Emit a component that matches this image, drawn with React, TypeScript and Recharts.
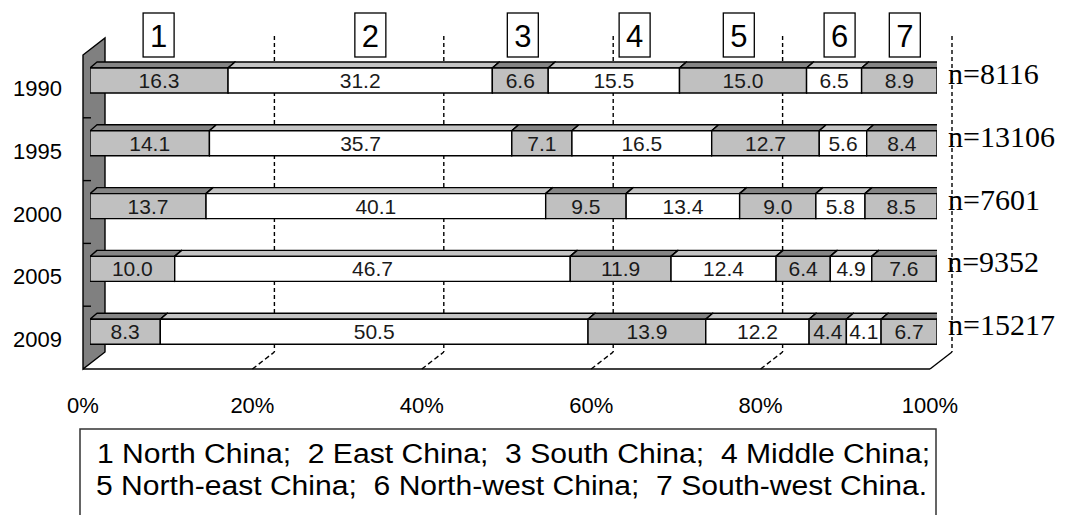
import { BarChart, Bar, XAxis, YAxis, LabelList, ReferenceArea, ReferenceLine } from 'recharts';

// Regional share of the sample (%) by survey year
const years = ['1990', '1995', '2000', '2005', '2009'];
const northChina = [16.3, 14.1, 13.7, 10.0, 8.3];
const eastChina = [31.2, 35.7, 40.1, 46.7, 50.5];
const southChina = [6.6, 7.1, 9.5, 11.9, 13.9];
const middleChina = [15.5, 16.5, 13.4, 12.4, 12.2];
const northEastChina = [15.0, 12.7, 9.0, 6.4, 4.4];
const northWestChina = [6.5, 5.6, 5.8, 4.9, 4.1];
const southWestChina = [8.9, 8.4, 8.5, 7.6, 6.7];
const sampleSizes = [8116, 13106, 7601, 9352, 15217];

const xTicks = [0, 20, 40, 60, 80, 100];
// where the region number boxes sit along the top, in %
const regionMarkers = [8.1, 33.1, 51.1, 64.3, 76.6, 88.5, 96.2];
const legendLines = [
  '1 North China;  2 East China;  3 South China;  4 Middle China;',
  '5 North-east China;  6 North-west China;  7 South-west China.',
];

const SERIES = [
  { key: 's1', values: northChina, shaded: true },
  { key: 's2', values: eastChina, shaded: false },
  { key: 's3', values: southChina, shaded: true },
  { key: 's4', values: middleChina, shaded: false },
  { key: 's5', values: northEastChina, shaded: true },
  { key: 's6', values: northWestChina, shaded: false },
  { key: 's7', values: southWestChina, shaded: true },
];

const data = years.map((year, i) => {
  const row: Record<string, string | number> = { year, n: sampleSizes[i] };
  SERIES.forEach((s) => { row[s.key] = s.values[i]; });
  return row;
});

const SANS = '"Liberation Sans", Arial, sans-serif';
const SERIF = '"Liberation Serif", "Times New Roman", serif';

// bar box depth, and the front / back planes of the 3D frame
const DX = 7;
const DY = 6;
const FRONT = { dx: -7, dy: 6 };
const BACK = { dx: 15, dy: -11 };

function Box3D(props: any) {
  const { x, y, width, height, shaded } = props;
  if (width == null || width <= 0) return null;
  const face = shaded ? '#c0c0c0' : '#ffffff';
  const top = shaded ? '#858585' : '#c4c4c4';
  const side = shaded ? '#808080' : '#c0c0c0';
  const r = x + width;
  return (
    <g stroke="#000" strokeWidth={1.4} strokeLinejoin="round">
      <polygon points={`${x},${y} ${x + DX},${y - DY} ${r + DX},${y - DY} ${r},${y}`} fill={top} />
      <polygon points={`${r},${y} ${r + DX},${y - DY} ${r + DX},${y + height - DY} ${r},${y + height}`} fill={side} />
      <rect x={x} y={y} width={width} height={height} fill={face} />
    </g>
  );
}

function ValueLabel(props: any) {
  const { x, y, width, height, value } = props;
  return (
    <text x={x + width / 2} y={y + height / 2 + 7.5} textAnchor="middle" fontSize={21} fontFamily={SANS} fill="#1a1a1a">
      {Number(value).toFixed(1)}
    </text>
  );
}

function SampleLabel(props: any) {
  const { x, y, width, height, value } = props;
  return (
    <text x={x + width + 11} y={y + height / 2 + 3.5} fontSize={30} fontFamily={SERIF} fill="#000">
      n={value}
    </text>
  );
}

function Frame(props: any) {
  const { x, y, width, height } = props;
  const L = x;
  const T = y;
  const B = y + height;
  const band = height / years.length;
  const px = (t: number) => L + (width * t) / 100;
  return (
    <g>
      {/* back wall gridlines and floor depth lines */}
      {xTicks.filter((t) => t > 0).map((t) => (
        <g key={t} stroke="#000" strokeWidth={1.4} fill="none">
          <line x1={px(t) + BACK.dx} y1={T + BACK.dy - 2} x2={px(t) + BACK.dx} y2={B + BACK.dy} strokeDasharray="4 3" />
          <line
            x1={px(t) + FRONT.dx} y1={B + FRONT.dy} x2={px(t) + BACK.dx} y2={B + BACK.dy}
            strokeDasharray={t === 100 ? undefined : '5 3'}
          />
        </g>
      ))}
      {/* side wall */}
      <polygon
        points={`${L + FRONT.dx},${T + FRONT.dy} ${L + BACK.dx},${T + BACK.dy} ${L + BACK.dx},${B + BACK.dy} ${L + FRONT.dx},${B + FRONT.dy}`}
        fill="#808080" stroke="#000" strokeWidth={1.4}
      />
      {years.slice(1).map((_, i) => (
        <line key={i} x1={L + FRONT.dx} x2={L + FRONT.dx + 8} y1={T + FRONT.dy + band * (i + 1)} y2={T + FRONT.dy + band * (i + 1)} stroke="#000" strokeWidth={1.4} />
      ))}
      {/* floor front edge */}
      <line x1={L + FRONT.dx} y1={B + FRONT.dy} x2={px(100) + FRONT.dx} y2={B + FRONT.dy} stroke="#000" strokeWidth={1.6} />
      {/* key box */}
      <rect x={L - 10} y={B + 66} width={856} height={120} fill="#fff" stroke="#333" strokeWidth={1.5} />
      {legendLines.map((line, i) => (
        <text
          key={i} x={L + 7 - i} y={B + 100 + i * 32} fontSize={27} fontFamily={SANS} fill="#000"
          textLength={833 - i * 2} lengthAdjust="spacingAndGlyphs" style={{ whiteSpace: 'pre' }}
        >
          {line}
        </text>
      ))}
    </g>
  );
}

function MarkerBox(props: any) {
  const { viewBox, idx } = props;
  const cx = viewBox.x;
  const top = viewBox.y - 36;
  return (
    <g>
      <rect x={cx - 15.5} y={top} width={31} height={44} fill="#fff" stroke="#000" strokeWidth={1.3} />
      <text x={cx} y={top + 34} textAnchor="middle" fontSize={31} fontFamily={SANS} fill="#000">{idx + 1}</text>
    </g>
  );
}

function XTick(props: any) {
  const { x, y, payload } = props;
  return (
    <text x={x + FRONT.dx} y={y + 42} textAnchor="middle" fontSize={22} fontFamily={SANS} fill="#000">
      {payload.value}%
    </text>
  );
}

function YTick(props: any) {
  const { x, y, payload } = props;
  return (
    <text x={x - 20} y={y + 15.5} textAnchor="end" fontSize={22} fontFamily={SANS} fill="#000">
      {payload.value}
    </text>
  );
}

export default function App() {
  return (
    <BarChart
      width={1049}
      height={507}
      data={data}
      layout="vertical"
      barSize={25}
      margin={{ top: 41, right: 120, bottom: 122, left: 0 }}
      style={{ overflow: 'visible' }}
    >
      <XAxis
        type="number"
        domain={[0, 100]}
        ticks={xTicks}
        allowDataOverflow
        axisLine={false}
        tickLine={false}
        height={30}
        tick={<XTick />}
      />
      <YAxis type="category" dataKey="year" width={82} axisLine={false} tickLine={false} tick={<YTick />} />
      <ReferenceArea x1={0} x2={100} shape={<Frame />} ifOverflow="visible" />
      {SERIES.map((s, i) => (
        <Bar
          key={s.key}
          dataKey={s.key}
          stackId="share"
          isAnimationActive={false}
          shape={(p: any) => <Box3D {...p} shaded={s.shaded} />}
        >
          <LabelList dataKey={s.key} content={<ValueLabel />} />
          {i === SERIES.length - 1 && <LabelList dataKey="n" content={<SampleLabel />} />}
        </Bar>
      ))}
      {regionMarkers.map((p, i) => (
        <ReferenceLine key={i} x={p} stroke="none" label={<MarkerBox idx={i} />} ifOverflow="visible" />
      ))}
    </BarChart>
  );
}
